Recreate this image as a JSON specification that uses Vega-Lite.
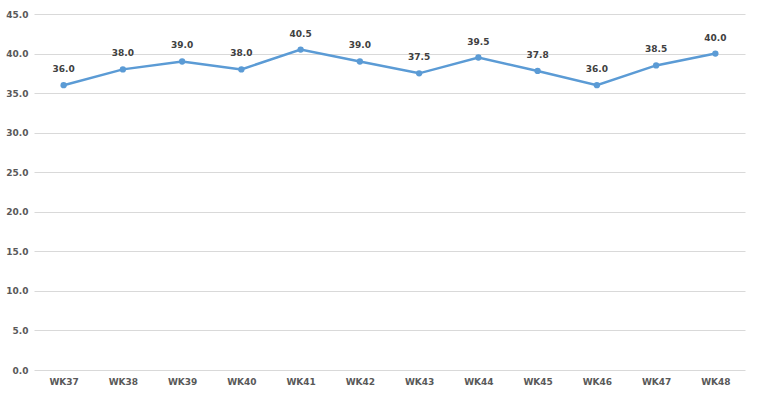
{
  "$schema": "https://vega.github.io/schema/vega-lite/v6.json",
  "width": 711,
  "height": 356,
  "autosize": {"type": "none"},
  "padding": {"left": 34, "top": 14, "right": 16, "bottom": 30},
  "background": "white",
  "config": {"view": {"stroke": null}},
  "data": {"values": [
    {"week": "WK37", "value": 36.0},
    {"week": "WK38", "value": 38.0},
    {"week": "WK39", "value": 39.0},
    {"week": "WK40", "value": 38.0},
    {"week": "WK41", "value": 40.5},
    {"week": "WK42", "value": 39.0},
    {"week": "WK43", "value": 37.5},
    {"week": "WK44", "value": 39.5},
    {"week": "WK45", "value": 37.8},
    {"week": "WK46", "value": 36.0},
    {"week": "WK47", "value": 38.5},
    {"week": "WK48", "value": 40.0}
  ]},
  "encoding": {
    "x": {"field": "week", "type": "ordinal", "sort": null,
      "scale": {"paddingInner": 0, "paddingOuter": 0.5},
      "axis": {"title": null, "labelAngle": 0, "domain": false, "ticks": false, "grid": false,
        "labelFont": "DejaVu Sans", "labelFontSize": 9, "labelFontWeight": "bold", "labelColor": "#595959", "labelPadding": 7}},
    "y": {"field": "value", "type": "quantitative",
      "scale": {"domain": [0, 45], "nice": false},
      "axis": {"title": null, "values": [0,5,10,15,20,25,30,35,40,45], "format": ".1f", "domain": false, "ticks": false,
        "gridColor": "#d9d9d9", "gridWidth": 1,
        "labelFont": "DejaVu Sans", "labelFontSize": 9, "labelFontWeight": "bold", "labelColor": "#595959", "labelPadding": 6}}
  },
  "layer": [
    {"mark": {"type": "line", "color": "#5B9BD5", "strokeWidth": 2.5}},
    {"mark": {"type": "point", "filled": true, "color": "#5B9BD5", "size": 40, "opacity": 1}},
    {"mark": {"type": "text", "dy": -16, "font": "DejaVu Sans", "fontSize": 9, "fontWeight": "bold", "color": "#404040"},
      "encoding": {"text": {"field": "value", "type": "quantitative", "format": ".1f"}}}
  ]
}
